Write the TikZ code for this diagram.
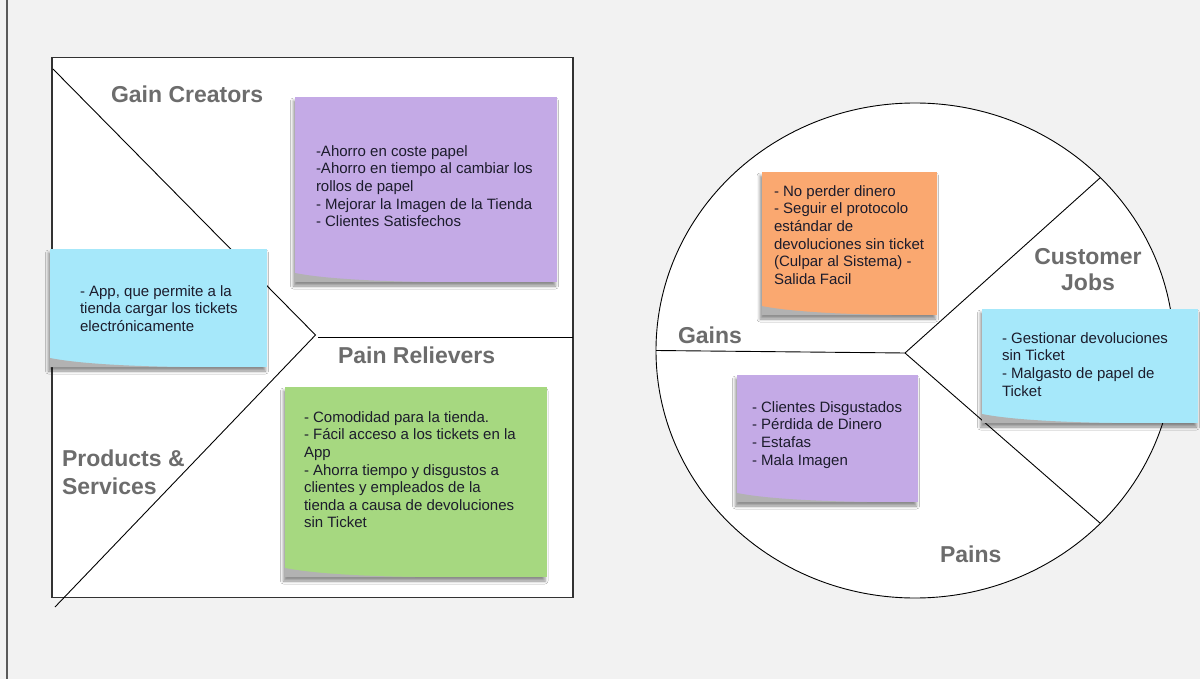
\documentclass[tikz,border=0pt]{standalone}
\usepackage{fontspec}
\setmainfont{Liberation Sans}
\usetikzlibrary{shapes.geometric,shadows.blur,calc}

\definecolor{boardbg}{RGB}{242,242,242}
\definecolor{edgegray}{RGB}{90,90,90}
\definecolor{framegray}{RGB}{50,50,50}
\definecolor{headgray}{RGB}{108,108,108}
\definecolor{memoink}{RGB}{28,28,44}
\definecolor{lilac}{RGB}{196,170,230}
\definecolor{skyblue}{RGB}{166,232,250}
\definecolor{leafgreen}{RGB}{166,216,128}
\definecolor{apricot}{RGB}{250,168,112}
\definecolor{curlshade}{RGB}{178,178,178}

\tikzset{
  heading/.style={font=\bfseries\fontsize{23}{27}\selectfont, text=headgray,
                  inner sep=0pt, outer sep=0pt},
  paper/.style={fill=#1, draw=none, inner sep=0pt, outer sep=0pt, anchor=north west,
                blur shadow={shadow xshift=-1.5pt, shadow yshift=-4pt,
                             shadow blur radius=3pt, shadow opacity=45}},
  memo/.style={font=\fontsize{15}{17.6}\selectfont, text=memoink, align=left,
               inner sep=0pt, outer sep=0pt, anchor=north west},
  divider/.style={draw=black, line width=0.9pt},
}

% lifted lower-left corner of a sticky note
\newcommand\liftcorner[1]{%
  \fill[curlshade]
    ($(#1.south west)+(0,-9)$)
    .. controls ($(#1.south west)+(25,-4)$) and ($(#1.south west)+(70,-1)$)
    .. ($(#1.south west)+(130,0)$) -- (#1.south west) -- cycle;}

\begin{document}
\begin{tikzpicture}[x=1pt, y=-1pt]
  \useasboundingbox (0,0) rectangle (1200,679);
  \fill[boardbg] (0,0) rectangle (1200,679);

  % page margin rule
  \coordinate (ruletop) at (7,0);
  \coordinate (rulebottom) at (7,679);
  \draw[edgegray, line width=2pt] (ruletop) -- (rulebottom);

  % ---------------- value map (square) ----------------
  \node[draw=framegray, fill=white, line width=1.4pt, inner sep=0pt, outer sep=0pt,
        minimum width=521pt, minimum height=540pt, anchor=north west] (canvas) at (52,57.5) {};
  \coordinate (gcstart) at (53,69);
  \coordinate (tip) at (315.5,335);
  \coordinate (psend) at (55,607);
  \coordinate (split) at (318,337);
  \draw[divider] (gcstart) -- (tip) -- (psend);
  \draw[divider] (split) -- (canvas.east |- split);

  \node[heading, anchor=base west] (gaincreators) at (111,103) {Gain Creators};
  \node[heading, anchor=base west] (painrelievers) at (338,363) {Pain Relievers};
  \node[heading, anchor=north west, align=left,
        font=\bfseries\fontsize{23}{28}\selectfont] (products) at (62,450) {Products \&\\Services};

  % ---------------- customer profile (circle) ----------------
  \node[draw=black, fill=white, ellipse, line width=0.9pt, inner sep=0pt, outer sep=0pt,
        minimum width=518pt, minimum height=495pt] (profile) at (915,350.5) {};
  \coordinate (hub) at (905,353);
  \draw[divider] (profile.west) -- (hub) -- (profile.43.6);
  \draw[divider] (hub) -- (profile.-43.6);

  \node[heading, anchor=base west] (gains) at (678,343) {Gains};
  \node[heading, anchor=north, align=center,
        font=\bfseries\fontsize{23}{26}\selectfont] (jobs) at (1088,248) {Customer\\Jobs};
  \node[heading, anchor=base west] (pains) at (940,562) {Pains};

  % ---------------- sticky notes ----------------
  \node[paper=lilac, minimum width=262pt, minimum height=185pt] (gcpaper) at (295,97) {};
  \liftcorner{gcpaper}
  \node[memo] (gctext) at ($(gcpaper.north west)+(21,48.5)$)
    {-Ahorro en coste papel\\-Ahorro en tiempo al cambiar los\\rollos de papel\\- Mejorar la Imagen de la Tienda\\- Clientes Satisfechos};

  \node[paper=skyblue, minimum width=217pt, minimum height=118pt] (pspaper) at (50,249) {};
  \liftcorner{pspaper}
  \node[memo] (pstext) at ($(pspaper.north west)+(30,36.5)$)
    {- App, que permite a la\\tienda cargar los tickets\\electrónicamente};

  \node[paper=leafgreen, minimum width=261.5pt, minimum height=190pt] (prpaper) at (285,387) {};
  \liftcorner{prpaper}
  \node[memo] (prtext) at ($(prpaper.north west)+(19,24.5)$)
    {- Comodidad para la tienda.\\- Fácil acceso a los tickets en la\\App\\- Ahorra tiempo y disgustos a\\clientes y empleados de la\\tienda a causa de devoluciones\\sin Ticket};

  \node[paper=apricot, minimum width=175.5pt, minimum height=143pt] (gnpaper) at (761.5,172) {};
  \liftcorner{gnpaper}
  \node[memo] (gntext) at ($(gnpaper.north west)+(12.5,13.5)$)
    {- No perder dinero\\- Seguir el protocolo\\estándar de\\devoluciones sin ticket\\(Culpar al Sistema) -\\Salida Facil};

  \node[paper=skyblue, minimum width=216pt, minimum height=114pt] (cjpaper) at (982,309) {};
  \liftcorner{cjpaper}
  \node[memo] (cjtext) at ($(cjpaper.north west)+(20,23.5)$)
    {- Gestionar devoluciones\\sin Ticket\\- Malgasto de papel de\\Ticket};

  \node[paper=lilac, minimum width=181pt, minimum height=127pt] (pnpaper) at (737,375) {};
  \liftcorner{pnpaper}
  \node[memo] (pntext) at ($(pnpaper.north west)+(15,26.5)$)
    {- Clientes Disgustados\\- Pérdida de Dinero\\- Estafas\\- Mala Imagen};
\end{tikzpicture}
\end{document}
